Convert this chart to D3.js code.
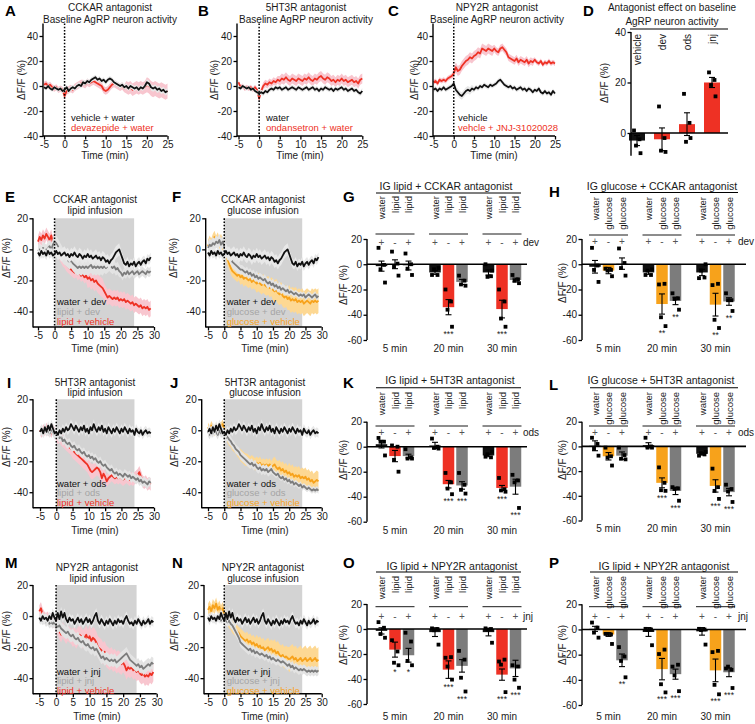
<!DOCTYPE html>
<html><head><meta charset="utf-8">
<script src="https://cdn.jsdelivr.net/npm/d3@7"></script>
<style>
body{margin:0;background:#fff;}
</style></head><body>
<svg id="fig" width="755" height="724" xmlns="http://www.w3.org/2000/svg"></svg>
<script>
// ---------------- DATA ----------------
const timeBaseline = d3.range(0, 61).map(i => -5 + i * 0.5);   // -5 .. 25 min
const timeInfusion = d3.range(0, 69).map(i => -5 + i * 0.5);   // -5 .. 29 min

// A: CCKAR antagonist baseline
const aVehWater = [-1,-2,0,-2,-3,-1,-2,-3,-2,-4, -3,-1,-4,-2,-1,-2,0,1,0,3, 2,4,3,5,6,7,5,6,4,5, 3,5,6,5,3,2,1,0,1,-1, 0,-2,0,-1,-2,-1,-3,-1,-2,0, 3,2,-1,-2,-1,-3,-2,-4,-3,-5, -4];
const aDevWater = [1,2,0,1,-1,-2,-1,-3,-2,-3, -8,-4,-3,-2,-3,-1,0,1,2,2, 1,3,2,3,4,3,2,1,0,-3, -4,-3,-1,1,2,1,0,-1,0,-2, -1,-2,-1,-3,-2,-1,-2,-1,-2,-1, 1,0,-2,-3,-2,-3,-4,-3,-4,-5, -4];
const aVehWaterSem = [1.5,2,2,2,2,2.5,2.5];
const aDevWaterSem = [2.5,3,3,3,5,6,6];
// B: 5HT3R antagonist baseline
const bWater = [-1,-2,0,-1,-2,-1,-3,-2,-4,-5, -6,-5,-6,-4,-5,-3,-2,-3,-1,-2, -1,-3,-2,-1,-3,-2,-1,-2,-3,-1, -2,-3,-2,-1,-3,-2,-1,-3,-2,-4, -2,-3,-1,-2,-3,-2,-4,-2,-3,-2, -1,-3,-2,-4,-3,-2,-4,-3,-5,-6, -4];
const bOdsWater = [3,-1,0,-2,-1,-2,-1,-3,-1,-3, -10,-4,0,2,1,3,2,4,3,5, 4,6,5,7,5,4,6,5,4,6, 5,4,6,5,7,5,4,6,5,7, 8,6,5,7,6,4,5,3,5,4, 6,4,5,3,4,5,3,4,2,5, 6];
const bWaterSem = [1.5,2,2,2,2,2,2.5];
const bOdsWaterSem = [2,3,4,4,4,4,4];
// C: NPY2R antagonist baseline
const cVehicle = [-3,-2,-4,-2,-3,-1,-3,-2,-1,0, 2,-3,-5,-7,-8,-6,-4,-3,-4,-2, -3,-1,-2,0,-1,1,0,-1,1,0, 1,2,4,5,3,1,0,-1,0,-2, -1,-3,-2,-1,-3,-2,-4,-2,-3,-5, -3,-4,-2,-5,-6,-4,-6,-5,-7,-4, -6];
const cJnj = [3,4,2,5,4,5,4,6,7,8, 10,15,12,13,16,18,20,21,23,22, 24,25,27,26,30,29,28,30,29,28, 30,28,27,30,31,29,27,23,22,21, 20,22,19,21,20,19,21,18,20,19, 21,19,18,20,17,19,18,20,18,19, 18];
const cVehicleSem = [2,3,2,2,2,2,2];
const cJnjSem = [2,4,4,3,3,2,2];

// E/F: CCKAR antagonist + infusion
const eWaterDev = [-2,-4,-1,-3,-2,-4,-1,-3,-2,-4, -3,-1,-3,-2,-4,-3,-2,-4,-3,-5, -3,-4,-2,-4,-5,-3,-4,-6,-4,-5, -3,-5,-4,-6,-5,-4,-6,-5,-7,-5, -6,-8,-7,-9,-7,-6,-4,-2,-1,0, -3,-6,-9,-10,-8,-11,-9,-10,-8,-11, -9,-8,-10,-8,-7,-9,-6,-7,-5];
const eLipidDev = [-1,0,-2,1,0,-1,1,2,0,3, 5,4,2,0,-2,-4,-5,-6,-7,-8, -7,-9,-10,-11,-12,-11,-12,-11,-12,-11, -12,-11,-10,-12,-11,-12,-11,-12,-11,-12, -11,-12,-11,-10,-11,-12,-11,-13,-12,-14, -15,-17,-15,-16,-14,-16,-15,-14,-16,-15, -14,-16,-15,-14,-15,-16,-14,-15,-14];
const eLipidVeh = [5,8,6,9,7,10,8,6,9,4, 7,5,2,-3,-5,-7,-8,-10,-11,-12, -13,-14,-15,-14,-16,-15,-17,-16,-18,-17, -19,-18,-20,-19,-21,-20,-22,-23,-24,-25, -27,-29,-31,-30,-31,-32,-31,-32,-31,-33, -32,-33,-32,-34,-33,-34,-35,-34,-36,-35, -36,-37,-36,-38,-37,-38,-37,-39,-38];
const fGlucoseDev = [1,3,2,4,3,5,4,6,3,5, 2,0,-2,-4,-6,-8,-9,-10,-11,-12, -13,-13,-14,-15,-14,-16,-15,-17,-16,-18, -17,-19,-18,-19,-20,-19,-21,-22,-21,-23, -22,-24,-23,-25,-24,-26,-25,-26,-27,-26, -28,-27,-28,-29,-28,-29,-30,-29,-30,-29, -31,-30,-29,-30,-31,-30,-29,-31,-30];
const fGlucoseVeh = [2,5,3,6,8,5,7,4,6,3, 2,-2,-6,-9,-12,-14,-15,-16,-17,-16, -18,-17,-19,-18,-19,-20,-19,-21,-20,-21, -22,-21,-22,-23,-22,-23,-24,-23,-25,-24, -26,-27,-26,-28,-29,-28,-30,-31,-30,-32, -31,-33,-32,-33,-32,-34,-33,-34,-33,-35, -34,-33,-34,-35,-33,-34,-33,-34,-33];
const eWaterDevSem = [3,4,4,4,4,3,3];
const eLipidDevSem = [4,5,5,5,4,3,3];
const eLipidVehSem = [4,4,4,6,5,5,5];
const fGlucoseDevSem = [4,4,3,3,3,2,2];
const fGlucoseVehSem = [4,4,5,6,7,8,8];

// I/J: 5HT3R antagonist + infusion
const iWaterOds = [-1,1,-2,2,-1,3,0,4,1,-2, -1,-3,0,-2,1,-1,2,0,1,4, 2,0,3,1,-1,2,0,3,-1,1, -2,2,0,4,1,-1,2,0,3,-1, 1,-2,2,0,-2,1,-1,2,0,-2, 1,-1,2,0,-2,1,-1,0,-3,1, -1,-2,0,-3,-1,0,-2,-1,-2];
const iLipidOds = [-1,0,-2,1,-1,0,-2,1,-1,-3, -2,-4,-5,-4,-7,-6,-8,-9,-8,-10, -11,-10,-12,-13,-12,-14,-15,-14,-16,-17, -16,-18,-17,-19,-18,-20,-21,-20,-22,-23, -22,-24,-25,-26,-25,-27,-28,-27,-29,-28, -29,-30,-28,-29,-30,-29,-31,-30,-31,-32, -31,-33,-32,-34,-33,-34,-35,-33,-34];
const iLipidVeh = [0,-2,1,-1,2,-1,0,-2,1,-1, -3,-5,-4,-6,-7,-8,-9,-10,-11,-12, -13,-14,-15,-16,-17,-18,-19,-20,-21,-22, -24,-26,-27,-26,-25,-24,-25,-27,-31,-28, -30,-33,-31,-30,-29,-30,-31,-30,-31,-30, -31,-32,-31,-30,-31,-32,-31,-32,-31,-30, -29,-27,-30,-33,-34,-33,-35,-34,-35];
const jGlucoseOds = [-1,-3,0,-2,1,-1,-3,0,-2,-1, -3,-5,-4,-6,-7,-9,-10,-12,-13,-14, -16,-17,-18,-19,-20,-21,-22,-21,-23,-22, -24,-25,-24,-26,-25,-26,-25,-27,-26,-25, -27,-28,-29,-28,-30,-31,-30,-32,-31,-33, -32,-34,-33,-35,-34,-35,-36,-35,-37,-36, -37,-38,-37,-38,-39,-38,-39,-38,-39];
const jGlucoseVeh = [2,0,3,1,-1,2,0,3,2,4, 1,-4,-5,-7,-8,-10,-11,-12,-14,-15, -16,-17,-18,-19,-19,-20,-21,-20,-21,-22, -21,-22,-21,-23,-22,-23,-22,-23,-22,-24, -23,-22,-24,-25,-24,-26,-25,-27,-26,-28, -27,-29,-28,-30,-29,-30,-29,-31,-30,-31, -30,-32,-31,-33,-32,-34,-33,-32,-33];
const iWaterOdsSem = [3,3,3,3,3,3,3];
const iLipidOdsSem = [3,3,3,3,3,3,3];
const iLipidVehSem = [3,4,5,5,4,4,4];
const jGlucoseOdsSem = [3,3,3,3,2,2,2];
const jGlucoseVehSem = [3,3,4,4,5,6,6];

// M/N: NPY2R antagonist + infusion
const mWaterJnj = [-1,-3,0,-2,-1,-3,0,-2,2,-1, -3,2,-2,3,-1,2,-2,-4,-1,-3, -2,-5,-3,-1,-4,-2,-5,-3,-1,-4, -2,-5,-3,0,2,-3,-5,-2,-4,-6, -3,-5,-2,-4,-6,-3,-5,-2,-4,-3, -5,-2,0,-3,-5,-4,-6,-3,-5,-2, -4,-6,-3,-5,-4,-2,-5,-3,-4];
const mLipidJnj = [-2,-1,-3,-2,-4,-3,-5,-4,-5,-4, -6,-7,-6,-8,-9,-10,-11,-10,-12,-13, -12,-14,-15,-14,-16,-17,-16,-18,-19,-18, -20,-21,-20,-22,-21,-23,-25,-27,-26,-28, -27,-28,-29,-28,-29,-28,-30,-29,-28,-27, -26,-25,-24,-26,-28,-29,-30,-31,-32,-31, -33,-32,-34,-33,-32,-31,-32,-30,-31];
const mLipidVeh = [3,5,1,-1,-2,-1,-3,-2,-4,-3, -5,-7,-10,-12,-9,-11,-13,-11,-12,-13, -14,-13,-15,-13,-12,-13,-15,-14,-12,-15, -13,-16,-14,-15,-17,-20,-21,-22,-24,-23, -26,-27,-28,-27,-29,-28,-30,-29,-30,-31, -30,-32,-35,-33,-34,-33,-35,-34,-36,-35, -37,-38,-37,-39,-38,-39,-37,-38,-36];
const nGlucoseJnj = [-1,0,-2,-1,-3,-1,-2,0,-3,-2, -1,-3,-4,-3,-5,-6,-8,-10,-12,-14, -17,-18,-19,-20,-21,-22,-21,-23,-22,-24, -23,-24,-25,-24,-25,-26,-25,-27,-26,-28, -27,-28,-29,-28,-29,-30,-29,-30,-31,-32, -31,-33,-32,-34,-33,-34,-35,-34,-35,-34, -35,-36,-35,-36,-35,-36,-35,-36,-35];
const nGlucoseVeh = [4,6,3,7,5,8,4,6,3,5, 2,-1,-2,-4,-5,-7,-8,-9,-10,-11, -13,-14,-15,-16,-15,-17,-16,-18,-17,-19, -18,-20,-19,-21,-20,-22,-21,-20,-22,-21, -23,-22,-24,-23,-25,-26,-25,-27,-26,-27, -28,-27,-26,-28,-27,-29,-28,-27,-29,-28, -27,-29,-28,-27,-29,-28,-27,-29,-28];
const mWaterJnjSem = [3,3,3,3,3,3,3];
const mLipidJnjSem = [3,4,4,4,4,4,4];
const mLipidVehSem = [4,5,6,7,7,6,6];
const nGlucoseJnjSem = [2,3,3,3,3,3,3];
const nGlucoseVehSem = [4,4,5,6,7,8,8];

// D: antagonist effect on baseline
const dCategories = ["vehicle", "dev", "ods", "jnj"];
const dMeans = [-3, -2.5, 3.5, 20];
const dSems = [2, 4.5, 4.5, 2];
const dPoints = [[1, -2.5, -5, -8], [10.5, -2, -7, -7.5], [15.5, 4, -3.5, -2], [24, 21, 19, 14.5]];

// bar panels (9 bars each: 5, 20, 30 min x [water+antag, nutrient+vehicle, nutrient+antag])
const groupLabels = ["5 min", "20 min", "30 min"];
const pmSigns = ["+", "-", "+"];
const gMeans = [-1.5, 0, -1, -6.5, -34, -14, -6.5, -35.5, -12.5];
const gSems = [4, 3.5, 3.5, 1.5, 6, 2, 2, 7, 1.5];
const gPoints = [[13,-0.5,-4,-14.5],[10,0.5,-2,-9],[8.5,0,-3.5,-8.5],[-8.5,-8.5,-4,-3],[-20,-29.5,-36,-49.5],[-9,-13,-16,-17],[0,-9.5,-10,-5],[-20,-29.5,-43,-49.5],[-8.5,-12,-13,-15]];
const gStars = ["","","","","***","","","***",""];
const hMeans = [-2, -5, 0.5, -6.5, -31.5, -29, -6.5, -32, -29.5];
const hSems = [5, 2.5, 4.5, 1.5, 8, 3, 2.5, 9, 3];
const hPoints = [[13,-1,-4.5,-14],[-3.5,-4.5,-5,-9.5],[12.5,1,-3,-9],[-8.5,-8.5,-5,-4],[-16,-15.5,-42,-49],[-23,-27,-27.5,-36],[-11,-10.5,-5,0],[-16.5,-15.5,-44,-50.5],[-23,-28.5,-28.5,-37]];
const hStars = ["","","","","**","**","","**","**"];
const kMeans = [2, -7.5, -7.5, 1, -30, -31, -7, -33, -32];
const kSems = [3, 4.5, 1.5, 2.5, 3, 3, 1, 2, 6];
const kPoints = [[7,4,4,-7],[1,0,-10.5,-20],[-2,-8.5,-9.5,-9.5],[6.5,0,-1,-1.5],[-21,-28.5,-33.5,-38],[-21,-30.5,-34.5,-37.5],[-8,-8.5,-6,-4],[-25,-34,-35,-36],[-22.5,-27,-28.5,-49]];
const kStars = ["","","","","***","***","","***","***"];
const lMeans = [0.5, -8, -7.5, 1, -29.5, -36, -6, -32, -37];
const lSems = [4, 3, 3, 2, 4, 3, 1, 5, 3];
const lPoints = [[7,2,-2,-7.5],[-1,-8,-9,-15.5],[-1,-7,-10,-10.5],[7,0,-1,-1],[-17,-29.5,-35.5,-36],[-33,-34,-34.5,-44],[-7.5,-6.5,-5.5,-4.5],[-18,-33,-36,-42.5],[-31,-34.5,-36.5,-45]];
const lStars = ["","","","","***","***","","***","***"];
const oMeans = [-1.5, -16.5, -21, -2.5, -32.5, -29.5, -2.5, -36.5, -31.5];
const oSems = [2.5, 6, 5.5, 3.5, 7, 5, 3, 4.5, 6.5];
const oPoints = [[5.5,1,-4,-7],[-9,-18,-27,-29],[-3,-10,-25.5,-29],[0.5,0,-1,-12.5],[-23,-22.5,-30,-40.5],[-17.5,-24.5,-39,-50],[0.5,0,-0.5,-11],[-26,-24.5,-28.5,-50.5],[-29,-30,-40.5,-47]];
const oStars = ["","*","*","","***","***","","***","***"];
const pMeans = [0.5, -4, -24.5, -2, -31.5, -35.5, -1.5, -32.5, -34];
const pSems = [2, 1.5, 5, 3.5, 8.5, 4, 3, 9, 3.5];
const pPoints = [[5.5,1.5,-2.5,-6.5],[-3.5,-4,-3.5,-11.5],[-14,-21.5,-25,-38],[0.5,0,-0.5,-12.5],[-19.5,-16,-43.5,-50],[-29.5,-28,-36.5,-49],[0.5,0,-0.5,-12],[-18,-17,-44,-51.5],[-31,-32,-29.5,-46.5]];
const pStars = ["","","**","","***","***","","***","***"];

// ---------------- STYLE ----------------
const FONT = "'Liberation Sans', Arial, Helvetica, sans-serif";
const TXT = "#1a1a1a";
const RED = "#ee3124", ORANGE = "#f7a21b", GRAY = "#7c7c7c", BLACK = "#111111";
const PINK = "#f8c6cf", LORANGE = "#fdd893", LGRAY = "#e3e3e3", LBLACK = "#e8e8e8";
const SHADE = "#d3d3d3", LEGGRAY = "#a5a5a5";
const svg = d3.select("#fig").attr("font-family", FONT);

function txt(g, x, y, s, o = {}) {
  const t = g.append("text").attr("x", x).attr("y", y).text(s)
    .attr("font-size", o.size || 10).attr("fill", o.fill || TXT)
    .attr("text-anchor", o.anchor || "start").attr("font-family", FONT);
  if (o.weight) t.attr("font-weight", o.weight);
  if (o.rotate) t.attr("transform", `rotate(${o.rotate},${x},${y})`);
  return t;
}
function letter(x, y, s) { txt(svg, x, y, s, {size: 15, weight: "bold", fill: "#000"}); }
function ylabel(g, x, y) { txt(g, x, y, "ΔF/F (%)", {anchor: "middle", rotate: -90}); }

function tracePanel(p) {
  const g = svg.append("g");
  const x = d3.scaleLinear().domain(p.xDomain).range(p.xRange);
  const y = d3.scaleLinear().domain(p.yDomain).range(p.yRange);
  const yTop = y(p.yDomain[1]), yBot = y(p.yDomain[0]);
  if (p.shade) g.append("rect").attr("x", x(0)).attr("y", yTop)
      .attr("width", x(24) - x(0)).attr("height", yBot - yTop).attr("fill", SHADE);
  p.traces.forEach(tr => {
    const data = tr.values.map((v, i) => {
      const t = p.time[i];
      return {t, v, s: tr.sem[Math.min(tr.sem.length - 1, Math.floor((t + 5) / 5))]};
    });
    g.append("path").datum(data)
      .attr("d", d3.area().x(d => x(d.t)).y0(d => y(d.v - d.s)).y1(d => y(d.v + d.s)))
      .attr("fill", tr.band);
    g.append("path").datum(data)
      .attr("d", d3.line().x(d => x(d.t)).y(d => y(d.v)))
      .attr("fill", "none").attr("stroke", tr.color).attr("stroke-width", 1.8)
      .attr("stroke-linejoin", "round");
  });
  g.append("line").attr("x1", x(0)).attr("x2", x(0)).attr("y1", yTop).attr("y2", yBot)
    .attr("stroke", "#000").attr("stroke-width", 1.5).attr("stroke-dasharray", "1.6,1.6");
  // axes
  const ya = g.append("g").attr("transform", `translate(${p.axisX},0)`)
    .call(d3.axisLeft(y).tickValues(p.yTicks).tickFormat(d => String(d)).tickSize(3.5).tickPadding(1.5));
  const xa = g.append("g").attr("transform", `translate(0,${yBot})`)
    .call(d3.axisBottom(x).tickValues(p.xTicks).tickFormat(d => String(d)).tickSize(3.5).tickPadding(1.5));
  [ya, xa].forEach(a => {
    a.select(".domain").remove();
    a.attr("font-family", FONT).attr("font-size", 10);
    a.selectAll("line").attr("stroke", "#000").attr("stroke-width", 1.3);
    a.selectAll("text").attr("fill", TXT);
  });
  g.append("line").attr("x1", p.axisX).attr("x2", p.axisX).attr("y1", yTop).attr("y2", yBot + 0.6)
    .attr("stroke", "#000").attr("stroke-width", 1.4);
  g.append("line").attr("x1", p.axisX).attr("x2", p.xRange[1]).attr("y1", yBot).attr("y2", yBot)
    .attr("stroke", "#000").attr("stroke-width", 1.4);
  p.title.forEach((s, i) => txt(g, p.titleX, p.titleY[i], s, {anchor: "middle"}));
  p.legend.forEach((l, i) => txt(g, p.legendX, p.legendY[i], l[0], {fill: l[1], size: 9.5}));
  ylabel(g, p.ylabelX, p.ylabelY);
  txt(g, p.xlabelX, p.xlabelY, "Time (min)", {anchor: "middle"});
  letter(p.letterX, p.letterY, p.letter);
}

const xTicksB = [-5, 0, 5, 10, 15, 20, 25];
const xTicksI = [-5, 0, 5, 10, 15, 20, 25, 30];
const baseCommon = {time: timeBaseline, xDomain: [-5, 25], yDomain: [-40, 50], yRange: [136, 23.5],
  yTicks: [-40, -20, 0, 20, 40], xTicks: xTicksB, shade: false, titleY: [11, 23], legendY: [121, 131], letterY: 16, ylabelY: 80, xlabelY: 158.5};
tracePanel(Object.assign({}, baseCommon, {axisX: 43, xRange: [44, 167.5],
  traces: [{values: aDevWater, sem: aDevWaterSem, color: RED, band: PINK}, {values: aVehWater, sem: aVehWaterSem, color: BLACK, band: LBLACK}],
  title: ["CCKAR antagonist", "Baseline AgRP neuron activity"], titleX: 110,
  legend: [["vehicle + water", BLACK], ["devazepide + water", RED]], legendX: 71,
  letter: "A", letterX: 5, ylabelX: 25, xlabelX: 105}));
tracePanel(Object.assign({}, baseCommon, {axisX: 237, xRange: [238.5, 362.3],
  traces: [{values: bOdsWater, sem: bOdsWaterSem, color: RED, band: PINK}, {values: bWater, sem: bWaterSem, color: BLACK, band: LBLACK}],
  title: ["5HT3R antagonist", "Baseline AgRP neuron activity"], titleX: 306,
  legend: [["water", BLACK], ["ondansetron + water", RED]], legendX: 266,
  letter: "B", letterX: 198, ylabelX: 218, xlabelX: 300}));
tracePanel(Object.assign({}, baseCommon, {axisX: 433, xRange: [433.5, 555],
  traces: [{values: cJnj, sem: cJnjSem, color: RED, band: PINK}, {values: cVehicle, sem: cVehicleSem, color: BLACK, band: LBLACK}],
  title: ["NPY2R antagonist", "Baseline AgRP neuron activity"], titleX: 497,
  legend: [["vehicle", BLACK], ["vehcle + JNJ-31020028", RED]], legendX: 458,
  letter: "C", letterX: 388, ylabelX: 418, xlabelX: 494}));

const infCommon = {time: timeInfusion, xDomain: [-5, 30], yDomain: [-50, 20], yTicks: [-40, -20, 0, 20], xTicks: xTicksI, shade: true};
function tr3(veh, vehSem, vehCol, vehBand, ant, antSem, wat, watSem) {
  return [{values: veh, sem: vehSem, color: vehCol, band: vehBand},
          {values: ant, sem: antSem, color: GRAY, band: LGRAY},
          {values: wat, sem: watSem, color: BLACK, band: LBLACK}];
}
const rowE = {yRange: [327, 218.3], titleY: [202.5, 214], legendY: [305, 314.8, 324.6], letterY: 202, ylabelY: 258, xlabelY: 351.5};
const rowI = {yRange: [507.7, 399.3], titleY: [385.5, 396], legendY: [486.5, 496.3, 506.1], letterY: 388, ylabelY: 447, xlabelY: 533.5};
const rowM = {yRange: [693.7, 585], titleY: [571, 581.5], legendY: [674.5, 684.3, 694.1], letterY: 568, ylabelY: 631, xlabelY: 720};
tracePanel(Object.assign({}, infCommon, rowE, {axisX: 33, xRange: [38, 154],
  traces: tr3(eLipidVeh, eLipidVehSem, RED, PINK, eLipidDev, eLipidDevSem, eWaterDev, eWaterDevSem),
  title: ["CCKAR antagonist", "lipid infusion"], titleX: 95,
  legend: [["water + dev", BLACK], ["lipid + dev", LEGGRAY], ["lipid + vehicle", RED]], legendX: 57,
  letter: "E", letterX: 5, ylabelX: 10, xlabelX: 95}));
tracePanel(Object.assign({}, infCommon, rowE, {axisX: 205.7, xRange: [208, 321.7],
  traces: tr3(fGlucoseVeh, fGlucoseVehSem, ORANGE, LORANGE, fGlucoseDev, fGlucoseDevSem, eWaterDev, eWaterDevSem),
  title: ["CCKAR antagonist", "glucose infusion"], titleX: 263,
  legend: [["water + dev", BLACK], ["glucose + dev", LEGGRAY], ["glucose + vehicle", ORANGE]], legendX: 226.7,
  letter: "F", letterX: 172, ylabelX: 177, xlabelX: 265}));
tracePanel(Object.assign({}, infCommon, rowI, {axisX: 33, xRange: [40, 154],
  traces: tr3(iLipidVeh, iLipidVehSem, RED, PINK, iLipidOds, iLipidOdsSem, iWaterOds, iWaterOdsSem),
  title: ["5HT3R antagonist", "lipid infusion"], titleX: 95,
  legend: [["water + ods", BLACK], ["lipid + ods", LEGGRAY], ["lipid + vehicle", RED]], legendX: 57,
  letter: "I", letterX: 7, ylabelX: 10, xlabelX: 95}));
tracePanel(Object.assign({}, infCommon, rowI, {axisX: 201.7, xRange: [208, 321.7],
  traces: tr3(jGlucoseVeh, jGlucoseVehSem, ORANGE, LORANGE, jGlucoseOds, jGlucoseOdsSem, iWaterOds, iWaterOdsSem),
  title: ["5HT3R antagonist", "glucose infusion"], titleX: 265,
  legend: [["water + ods", BLACK], ["glucose + ods", LEGGRAY], ["glucose + vehicle", ORANGE]], legendX: 226.7,
  letter: "J", letterX: 170, ylabelX: 178, xlabelX: 265}));
tracePanel(Object.assign({}, infCommon, rowM, {axisX: 33, xRange: [39.3, 156.7],
  traces: tr3(mLipidVeh, mLipidVehSem, RED, PINK, mLipidJnj, mLipidJnjSem, mWaterJnj, mWaterJnjSem),
  title: ["NPY2R antagonist", "lipid infusion"], titleX: 97,
  legend: [["water + jnj", BLACK], ["lipid + jnj", LEGGRAY], ["lipid + vehicle", RED]], legendX: 57,
  letter: "M", letterX: 5, ylabelX: 10, xlabelX: 97}));
tracePanel(Object.assign({}, infCommon, rowM, {axisX: 204, xRange: [208, 321.7],
  traces: tr3(nGlucoseVeh, nGlucoseVehSem, ORANGE, LORANGE, nGlucoseJnj, nGlucoseJnjSem, mWaterJnj, mWaterJnjSem),
  title: ["NPY2R antagonist", "glucose infusion"], titleX: 263,
  legend: [["water + jnj", BLACK], ["glucose + jnj", LEGGRAY], ["glucose + vehicle", ORANGE]], legendX: 226.7,
  letter: "N", letterX: 172, ylabelX: 178, xlabelX: 265}));

// ---------- bar helpers ----------
const JIT = [-3, 2.5, -1, 3.5, 0.5];
function drawBar(g, y, cx, w, mean, sem, pts, color) {
  g.append("rect").attr("x", cx - w / 2).attr("width", w)
    .attr("y", Math.min(y(0), y(mean))).attr("height", Math.abs(y(mean) - y(0))).attr("fill", color);
  const e = g.append("g").attr("stroke", "#000").attr("stroke-width", 1.1);
  e.append("line").attr("x1", cx).attr("x2", cx).attr("y1", y(mean - sem)).attr("y2", y(mean + sem));
  [mean - sem, mean + sem].forEach(v => e.append("line").attr("x1", cx - 3).attr("x2", cx + 3).attr("y1", y(v)).attr("y2", y(v)));
  pts.forEach((v, j) => g.append("rect").attr("x", cx + JIT[j] - 1.9).attr("y", y(v) - 1.9)
    .attr("width", 3.8).attr("height", 3.8).attr("fill", "#000"));
}
function yAxisBars(g, y, axisX, ticks) {
  const a = g.append("g").attr("transform", `translate(${axisX},0)`)
    .call(d3.axisLeft(y).tickValues(ticks).tickFormat(d => String(d)).tickSize(3.5).tickPadding(1.5));
  a.select(".domain").remove();
  a.attr("font-family", FONT).attr("font-size", 10);
  a.selectAll("line").attr("stroke", "#000").attr("stroke-width", 1.3);
  a.selectAll("text").attr("fill", TXT);
  const d = y.domain();
  g.append("line").attr("x1", axisX).attr("x2", axisX).attr("y1", y(d[1])).attr("y2", y(d[0]))
    .attr("stroke", "#000").attr("stroke-width", 1.4);
}

function barPanel(p) {
  const g = svg.append("g");
  const y = d3.scaleLinear().domain([-60, 20]).range([p.yBot, p.yTop]);
  const bx = i => p.base + Math.floor(i / 3) * 53.5 + (i % 3) * 13.5;
  const colors = [BLACK, p.nutColor, GRAY];
  p.means.forEach((m, i) => drawBar(g, y, bx(i), 11.5, m, p.sems[i], p.points[i], colors[i % 3]));
  g.append("line").attr("x1", p.axisX).attr("x2", p.zeroEnd).attr("y1", y(0)).attr("y2", y(0))
    .attr("stroke", "#000").attr("stroke-width", 1.6);
  yAxisBars(g, y, p.axisX, [20, 0, -20, -40, -60]);
  p.stars.forEach((s, i) => {
    if (!s) return;
    const lo = Math.min(d3.min(p.points[i]), p.means[i] - p.sems[i]);
    txt(g, bx(i), y(lo) + 10, s, {anchor: "middle", size: 8.5});
  });
  txt(g, p.titleX, p.titleY, p.title, {anchor: "middle", size: 10.5});
  g.append("line").attr("x1", p.hx[0]).attr("x2", p.hx[1]).attr("y1", p.hline).attr("y2", p.hline)
    .attr("stroke", "#000").attr("stroke-width", 1.1);
  const labs = ["water", p.nutrient, p.nutrient];
  for (let i = 0; i < 9; i++) {
    txt(g, bx(i) + 3.5, p.labelTop, labs[i % 3], {anchor: "end", rotate: -90, size: 9.5});
    txt(g, bx(i), p.pmY, pmSigns[i % 3], {anchor: "middle", size: 10, fill: "#555"});
  }
  for (let k = 0; k < 3; k++) {
    g.append("line").attr("x1", bx(3 * k) - 6).attr("x2", bx(3 * k + 2) + 6)
      .attr("y1", p.gline).attr("y2", p.gline).attr("stroke", "#000").attr("stroke-width", 0.9);
    txt(g, bx(3 * k + 1), p.glabelY, groupLabels[k], {anchor: "middle"});
  }
  txt(g, p.antX, p.pmY, p.antag, {size: 10});
  ylabel(g, p.ylabelX, p.ylabelY);
  letter(p.letterX, p.letterY, p.letter);
}

const leftCol = {axisX: 367, base: 381.5, zeroEnd: 527, hx: [376, 521], antX: 523, ylabelX: 347, letterX: 343};
const rightCol = {axisX: 582, base: 595, zeroEnd: 746, hx: [590, 738], antX: 738, ylabelX: 566, letterX: 549};
barPanel(Object.assign({}, leftCol, {yTop: 239, yBot: 340, means: gMeans, sems: gSems, points: gPoints, stars: gStars,
  nutColor: RED, nutrient: "lipid", antag: "dev", title: "IG lipid + CCKAR antagonist", titleX: 446, titleY: 190,
  hline: 193, labelTop: 196, gline: 234, pmY: 245.5, glabelY: 351.5, ylabelY: 285, letter: "G", letterY: 202}));
barPanel(Object.assign({}, rightCol, {yTop: 239, yBot: 340, means: hMeans, sems: hSems, points: hPoints, stars: hStars,
  nutColor: ORANGE, nutrient: "glucose", antag: "dev", title: "IG glucose + CCKAR antagonist", titleX: 662, titleY: 190,
  hline: 192.5, labelTop: 197, gline: 235, pmY: 245, glabelY: 351.5, ylabelY: 283, letter: "H", letterY: 197}));
barPanel(Object.assign({}, leftCol, {yTop: 421.7, yBot: 521.7, means: kMeans, sems: kSems, points: kPoints, stars: kStars,
  nutColor: RED, nutrient: "lipid", antag: "ods", title: "IG lipid + 5HT3R antagonist", titleX: 450, titleY: 384,
  hline: 387.7, labelTop: 392, gline: 426, pmY: 435.5, glabelY: 533.5, ylabelY: 460, letter: "K", letterY: 388}));
barPanel(Object.assign({}, rightCol, {yTop: 421.7, yBot: 520.5, means: lMeans, sems: lSems, points: lPoints, stars: lStars,
  nutColor: ORANGE, nutrient: "glucose", antag: "ods", title: "IG glucose + 5HT3R antagonist", titleX: 661, titleY: 384,
  hline: 387.7, labelTop: 392, gline: 426, pmY: 435.5, glabelY: 531.5, ylabelY: 460, letter: "L", letterY: 390}));
barPanel(Object.assign({}, leftCol, {yTop: 604, yBot: 704, means: oMeans, sems: oSems, points: oPoints, stars: oStars,
  nutColor: RED, nutrient: "lipid", antag: "jnj", title: "IG lipid + NPY2R antagonist", titleX: 452, titleY: 569.5,
  hline: 572, labelTop: 576, gline: 606.7, pmY: 620, glabelY: 720, ylabelY: 645, letter: "O", letterY: 568}));
barPanel(Object.assign({}, rightCol, {yTop: 604.3, yBot: 705, means: pMeans, sems: pSems, points: pPoints, stars: pStars,
  nutColor: ORANGE, nutrient: "glucose", antag: "jnj", title: "IG lipid + NPY2R antagonist", titleX: 664, titleY: 569.5,
  hline: 572, labelTop: 576, gline: 606.7, pmY: 620, glabelY: 720, ylabelY: 645, letter: "P", letterY: 568}));

// ---------- panel D ----------
(function () {
  const g = svg.append("g");
  const y = d3.scaleLinear().domain([-9, 40]).range([155.7, 32]);
  const bx = i => 637 + i * 25;
  const cols = [BLACK, RED, RED, RED];
  dMeans.forEach((m, i) => drawBar(g, y, bx(i), 16, m, dSems[i], dPoints[i], cols[i]));
  g.append("line").attr("x1", 631).attr("x2", 728).attr("y1", y(0)).attr("y2", y(0))
    .attr("stroke", "#000").attr("stroke-width", 1.6);
  yAxisBars(g, y, 631, [40, 20, 0]);
  dCategories.forEach((c, i) => txt(g, bx(i) + 3.5, 34, c, {anchor: "end", rotate: -90, size: 10}));
  g.append("line").attr("x1", 630).attr("x2", 728).attr("y1", 29).attr("y2", 29).attr("stroke", "#000").attr("stroke-width", 1.1);
  txt(g, 672, 11, "Antagonist effect on baseline", {anchor: "middle"});
  txt(g, 672, 24.5, "AgRP neuron activity", {anchor: "middle"});
  ylabel(g, 608, 83);
  letter(583, 16, "D");
})();
</script></body></html>
